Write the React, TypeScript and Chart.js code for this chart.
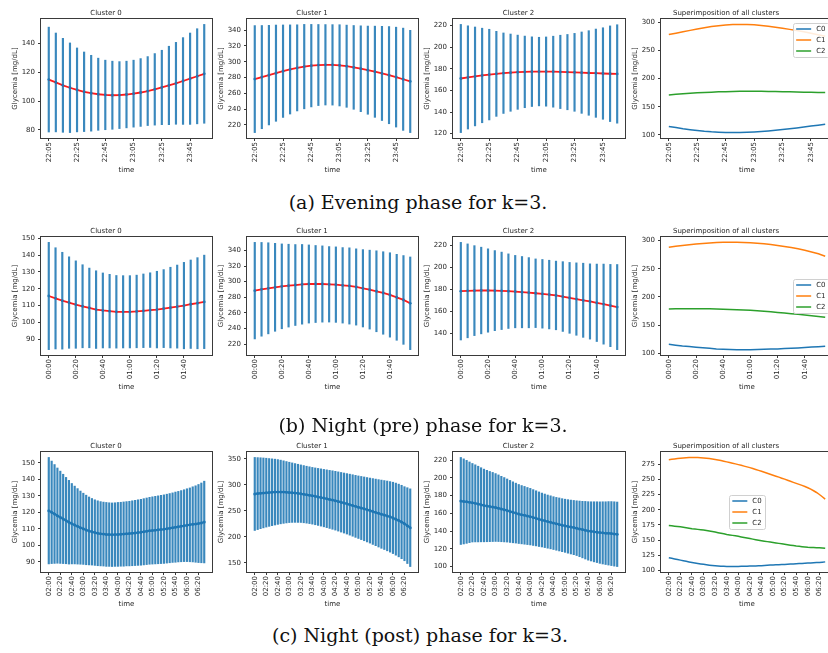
import React, { useEffect, useRef } from "react";
import { Chart, registerables } from "chart.js";
Chart.register(...registerables);

// ---------------- data ----------------
const EVE_TIMES = ["22:05","22:10","22:15","22:20","22:25","22:30","22:35","22:40","22:45","22:50","22:55","23:00","23:05","23:10","23:15","23:20","23:25","23:30","23:35","23:40","23:45","23:50","23:55"];
const PRE_TIMES = ["00:00","00:05","00:10","00:15","00:20","00:25","00:30","00:35","00:40","00:45","00:50","00:55","01:00","01:05","01:10","01:15","01:20","01:25","01:30","01:35","01:40","01:45","01:50","01:55"];
const POST_TIMES = ["02:00","02:05","02:10","02:15","02:20","02:25","02:30","02:35","02:40","02:45","02:50","02:55","03:00","03:05","03:10","03:15","03:20","03:25","03:30","03:35","03:40","03:45","03:50","03:55","04:00","04:05","04:10","04:15","04:20","04:25","04:30","04:35","04:40","04:45","04:50","04:55","05:00","05:05","05:10","05:15","05:20","05:25","05:30","05:35","05:40","05:45","05:50","05:55","06:00","06:05","06:10","06:15","06:20","06:25","06:30"];

const EVE_C0_MEAN = [115.0,113.0,111.0,109.3,107.8,106.5,105.5,104.8,104.3,104.1,104.2,104.6,105.2,106.0,107.0,108.2,109.5,110.9,112.4,114.0,115.6,117.3,119.0];
const EVE_C0_STD = [36.5,34.4,32.7,31.2,29.2,27.7,26.4,25.1,24.2,23.7,23.3,23.2,23.3,23.6,24.0,24.9,25.9,27.3,28.5,30.2,31.8,33.1,34.4];
const EVE_C1_MEAN = [278.0,280.5,283.0,285.5,288.0,290.2,292.2,293.8,295.0,295.8,296.1,296.0,295.4,294.3,292.8,291.1,289.3,287.3,285.2,283.0,280.5,277.8,275.0];
const EVE_C1_STD = [67.7,65.3,63.0,60.9,58.5,56.4,54.5,53.4,52.2,51.3,50.9,50.9,51.4,52.0,53.0,54.3,55.8,57.7,59.6,61.5,63.2,64.7,64.7];
const EVE_C2_MEAN = [171.0,172.0,172.9,173.8,174.6,175.3,175.9,176.4,176.8,177.1,177.3,177.4,177.4,177.3,177.1,176.9,176.7,176.4,176.1,175.9,175.6,175.4,175.2];
const EVE_C2_STD = [50.0,47.7,45.7,43.7,41.9,39.3,37.2,35.7,34.3,33.1,32.2,31.7,32.0,32.8,33.9,34.8,36.0,37.6,39.1,40.8,42.3,44.2,45.5];

const PRE_C0_MEAN = [115.7,114.3,112.9,111.8,110.6,109.6,108.6,107.6,107.1,106.7,106.3,106.3,106.3,106.5,106.9,107.3,107.6,108.2,108.8,109.4,110.0,110.8,111.4,112.2];
const PRE_C0_STD = [31.9,30.1,28.8,27.2,26.0,24.7,23.7,23.1,22.3,21.9,21.6,21.5,21.5,21.6,21.9,22.2,22.8,23.2,24.0,24.7,25.7,26.3,27.1,27.8];
const PRE_C1_MEAN = [288.5,290.2,291.5,292.8,294.0,294.9,295.7,296.6,297.0,297.0,297.0,296.6,296.2,295.3,294.5,293.2,291.5,289.8,287.7,285.5,283.0,280.0,276.6,272.3];
const PRE_C1_STD = [61.8,60.0,58.3,56.3,54.3,53.0,51.8,51.0,50.0,49.3,48.8,48.3,48.3,48.3,48.8,48.8,49.5,50.5,51.8,52.8,54.0,55.0,56.8,59.3];
const PRE_C2_MEAN = [178.5,178.8,179.0,179.1,179.1,179.0,178.8,178.5,178.1,177.6,177.1,176.6,176.1,175.4,174.6,173.6,172.4,171.3,170.2,169.1,167.9,166.7,165.4,164.0];
const PRE_C2_STD = [44.5,42.8,41.0,39.5,38.0,36.5,35.3,34.0,33.0,32.5,32.0,31.3,31.3,31.3,31.3,31.8,32.3,33.0,33.8,34.3,35.3,36.5,37.5,38.8];

const POST_C0_MEAN = [121.0,120.0,119.0,118.0,117.0,116.0,115.0,114.0,113.1,112.3,111.5,110.7,110.0,109.3,108.7,108.2,107.7,107.3,107.0,106.8,106.6,106.5,106.4,106.5,106.6,106.7,106.8,107.0,107.1,107.3,107.5,107.7,107.9,108.2,108.5,108.8,109.0,109.2,109.4,109.6,109.8,110.1,110.4,110.7,111.0,111.3,111.6,111.9,112.2,112.4,112.7,112.9,113.2,113.6,114.1];
const POST_C0_STD = [32.3,31.1,30.0,28.9,28.0,27.1,26.2,25.4,24.4,23.6,22.9,22.2,21.6,21.1,20.6,20.2,19.9,19.7,19.5,19.4,19.4,19.3,19.3,19.3,19.4,19.4,19.5,19.5,19.6,19.7,19.8,19.9,20.0,20.1,20.2,20.3,20.4,20.5,20.6,20.7,20.8,20.9,21.0,21.1,21.3,21.4,21.6,21.8,22.1,22.4,22.8,23.2,23.7,24.2,24.8];
const POST_C1_MEAN = [282.5,283.2,283.9,284.5,285.0,285.4,285.8,286.1,286.3,286.3,286.1,285.8,285.5,285.0,284.4,283.7,283.0,282.1,281.1,280.1,279.0,277.9,276.8,275.7,274.5,273.3,272.0,270.8,269.5,268.0,266.5,265.0,263.5,261.9,260.3,258.6,257.0,255.4,253.8,252.1,250.5,248.7,247.0,245.2,243.5,241.9,240.2,238.4,236.4,234.0,231.4,228.5,225.2,221.5,217.5];
const POST_C1_STD = [70.3,69.3,68.3,67.3,66.3,65.3,64.3,63.4,62.4,61.3,60.2,59.1,58.1,57.3,56.6,56.0,55.4,55.1,54.8,54.7,54.6,54.7,54.9,55.1,55.3,55.6,55.9,56.3,56.6,57.0,57.4,57.8,58.2,58.7,59.2,59.7,60.2,60.8,61.4,62.0,62.6,63.4,64.1,64.9,65.7,66.4,67.2,67.9,68.7,69.4,70.0,70.7,71.3,73.0,74.8];
const POST_C2_MEAN = [174.0,173.5,173.0,172.5,172.0,171.3,170.5,169.7,168.9,168.3,167.7,167.2,166.6,165.8,164.9,164.1,163.2,162.2,161.2,160.3,159.3,158.5,157.8,157.0,156.3,155.3,154.4,153.4,152.5,151.6,150.7,149.9,149.0,148.2,147.5,146.7,146.0,145.3,144.6,144.0,143.3,142.5,141.7,141.0,140.2,139.7,139.2,138.8,138.3,138.0,137.7,137.5,137.2,136.8,136.4];
const POST_C2_STD = [49.1,48.0,46.8,45.5,44.3,43.5,42.7,41.8,41.0,40.3,39.6,39.0,38.3,37.6,36.9,36.3,35.6,35.0,34.4,33.8,33.3,32.9,32.6,32.2,31.9,31.5,31.1,30.8,30.4,30.2,30.0,29.9,29.8,29.8,29.9,29.9,30.0,30.2,30.4,30.6,30.9,31.4,31.9,32.5,33.0,33.4,33.9,34.3,34.7,35.1,35.4,35.8,36.1,36.3,36.4];

const SERIES_LABELS = ["C0", "C1", "C2"];
const CLUSTER_TITLES = ["Cluster 0", "Cluster 1", "Cluster 2"];
const SUP_TITLE = "Superimposition of all clusters";
const Y_LABEL = "Glycemia [mg/dL]";
const X_LABEL = "time";
const CAPTIONS = ["(a) Evening phase for k=3.", "(b) Night (pre) phase for k=3.", "(c) Night (post) phase for k=3."];

// ---------------- styling / layout ----------------
const FONT = "'DejaVu Sans', sans-serif";
const TEXT = "#262626";
const SPINE = "#3a3a3a";
const BLUE = "#1f77b4";
const ERR = "rgba(31,119,180,0.88)";
const SERIES_COLORS = ["#1f77b4", "#ff7f0e", "#2ca02c"];

const COLS = [
  { l: 41, r: 213 },
  { l: 247, r: 419 },
  { l: 453, r: 626 },
  { l: 661, r: 833 },
];
const ROWS = [
  { t: 19, b: 138 },
  { t: 237, b: 355 },
  { t: 452, b: 572 },
];
const CAPTION_POS = [
  { cx: 418, cy: 202 },
  { cx: 423, cy: 425 },
  { cx: 420, cy: 635 },
];
const AXIS_W = 42;
const TITLE_H = 16;
const XAXIS_H = 40;
const PAD_R = 3;

type Spec = {
  row: number;
  col: number;
  title: string;
  times: string[];
  step: number;
  mean?: number[];
  std?: number[];
  red?: boolean;
  series?: number[][];
  legend?: string;
};

const PANELS: Spec[] = [
  { row: 0, col: 0, title: CLUSTER_TITLES[0], times: EVE_TIMES, mean: EVE_C0_MEAN, std: EVE_C0_STD, step: 20, red: true },
  { row: 0, col: 1, title: CLUSTER_TITLES[1], times: EVE_TIMES, mean: EVE_C1_MEAN, std: EVE_C1_STD, step: 20, red: true },
  { row: 0, col: 2, title: CLUSTER_TITLES[2], times: EVE_TIMES, mean: EVE_C2_MEAN, std: EVE_C2_STD, step: 20, red: true },
  { row: 0, col: 3, title: SUP_TITLE, times: EVE_TIMES, series: [EVE_C0_MEAN, EVE_C1_MEAN, EVE_C2_MEAN], step: 50, legend: "upper right" },
  { row: 1, col: 0, title: CLUSTER_TITLES[0], times: PRE_TIMES, mean: PRE_C0_MEAN, std: PRE_C0_STD, step: 10, red: true },
  { row: 1, col: 1, title: CLUSTER_TITLES[1], times: PRE_TIMES, mean: PRE_C1_MEAN, std: PRE_C1_STD, step: 20, red: true },
  { row: 1, col: 2, title: CLUSTER_TITLES[2], times: PRE_TIMES, mean: PRE_C2_MEAN, std: PRE_C2_STD, step: 20, red: true },
  { row: 1, col: 3, title: SUP_TITLE, times: PRE_TIMES, series: [PRE_C0_MEAN, PRE_C1_MEAN, PRE_C2_MEAN], step: 50, legend: "center right" },
  { row: 2, col: 0, title: CLUSTER_TITLES[0], times: POST_TIMES, mean: POST_C0_MEAN, std: POST_C0_STD, step: 10, red: false },
  { row: 2, col: 1, title: CLUSTER_TITLES[1], times: POST_TIMES, mean: POST_C1_MEAN, std: POST_C1_STD, step: 50, red: false },
  { row: 2, col: 2, title: CLUSTER_TITLES[2], times: POST_TIMES, mean: POST_C2_MEAN, std: POST_C2_STD, step: 20, red: false },
  { row: 2, col: 3, title: SUP_TITLE, times: POST_TIMES, series: [POST_C0_MEAN, POST_C1_MEAN, POST_C2_MEAN], step: 25, legend: "center" },
];

// ---------------- plugins ----------------
const framePlugin = {
  id: "frame",
  afterDatasetsDraw(chart: any) {
    const { ctx, chartArea: a } = chart;
    const l = Math.round(a.left), t = Math.round(a.top), r = Math.round(a.right), b = Math.round(a.bottom);
    ctx.save();
    ctx.strokeStyle = SPINE;
    ctx.lineWidth = 1;
    ctx.strokeRect(l - 0.5, t - 0.5, r - l + 1, b - t + 1);
    ctx.restore();
  },
};

function makeLegendPlugin(loc: string) {
  return {
    id: "supLegend",
    afterDraw(chart: any) {
      const { ctx, chartArea: a } = chart;
      const ds = chart.data.datasets;
      ctx.save();
      ctx.font = `7px ${FONT}`;
      const padX = 3.5, handle = 15, gap = 5, lineH = 11, inset = 4;
      const tw = Math.max(...ds.map((d: any) => ctx.measureText(d.label).width));
      const w = padX + handle + gap + tw + padX;
      const h = 12 + (ds.length - 1) * lineH;
      let x = a.right - inset - w;
      let y = a.top + inset;
      if (loc === "center right") y = (a.top + a.bottom) / 2 - h / 2;
      if (loc === "center") {
        x = (a.left + a.right) / 2 - w / 2;
        y = (a.top + a.bottom) / 2 - h / 2;
      }
      ctx.fillStyle = "rgba(255,255,255,0.85)";
      ctx.strokeStyle = "#d0d0d0";
      ctx.lineWidth = 1;
      ctx.beginPath();
      if (ctx.roundRect) ctx.roundRect(Math.round(x) + 0.5, Math.round(y) + 0.5, Math.round(w), Math.round(h), 2);
      else ctx.rect(Math.round(x) + 0.5, Math.round(y) + 0.5, Math.round(w), Math.round(h));
      ctx.fill();
      ctx.stroke();
      ds.forEach((d: any, i: number) => {
        const cy = y + 6 + i * lineH;
        ctx.strokeStyle = d.borderColor;
        ctx.lineWidth = 1.5;
        ctx.beginPath();
        ctx.moveTo(x + padX, cy);
        ctx.lineTo(x + padX + handle, cy);
        ctx.stroke();
        ctx.fillStyle = TEXT;
        ctx.textBaseline = "middle";
        ctx.textAlign = "left";
        ctx.fillText(d.label, x + padX + handle + gap, cy);
      });
      ctx.restore();
    },
  };
}

// ---------------- config ----------------
function buildConfig(p: Spec): any {
  const n = p.times.length;
  const xs = p.times.map((_, i) => i);
  const datasets: any[] = [];
  let lo = Infinity, hi = -Infinity;
  if (p.mean && p.std) {
    const lows = p.mean.map((m, i) => m - p.std![i]);
    const highs = p.mean.map((m, i) => m + p.std![i]);
    lo = Math.min(...lows);
    hi = Math.max(...highs);
    datasets.push({
      type: "bar",
      label: "std",
      data: xs.map((i) => ({ x: i, y: [lows[i], highs[i]] })),
      backgroundColor: ERR,
      borderWidth: 0,
      barThickness: 1.5,
      grouped: false,
      order: 3,
    });
    if (p.red) {
      datasets.push({
        type: "line",
        label: "mean",
        data: xs.map((i) => ({ x: i, y: p.mean![i] })),
        borderColor: "#ff1a1a",
        borderWidth: 1.8,
        pointRadius: 0,
        tension: 0,
        order: 2,
      });
    }
    datasets.push({
      type: "line",
      label: "points",
      data: xs.map((i) => ({ x: i, y: p.mean![i] })),
      showLine: !p.red,
      borderColor: BLUE,
      borderWidth: 2,
      pointRadius: p.red ? 1.4 : 1.5,
      pointBackgroundColor: BLUE,
      pointBorderWidth: 0,
      tension: 0,
      order: 1,
    });
  } else if (p.series) {
    p.series.forEach((s, k) => {
      lo = Math.min(lo, ...s);
      hi = Math.max(hi, ...s);
      datasets.push({
        type: "line",
        label: SERIES_LABELS[k],
        data: xs.map((i) => ({ x: i, y: s[i] })),
        borderColor: SERIES_COLORS[k],
        borderWidth: 1.5,
        pointRadius: 0,
        tension: 0,
        order: 3 - k,
      });
    });
  }
  const m = (hi - lo) * 0.05;
  const plugins: any[] = [framePlugin];
  if (p.legend) plugins.push(makeLegendPlugin(p.legend));
  const tickFont = { family: FONT, size: 7 };
  const gridOpts = { display: true, drawOnChartArea: false, drawTicks: true, tickLength: 3, color: SPINE, lineWidth: 1, offset: false };
  return {
    type: "line",
    data: { datasets },
    plugins,
    options: {
      animation: false,
      responsive: false,
      devicePixelRatio: 1,
      layout: { padding: { left: 0, right: PAD_R, top: 0, bottom: 0 } },
      plugins: {
        legend: { display: false },
        tooltip: { enabled: false },
        title: {
          display: true,
          text: p.title,
          color: TEXT,
          font: { family: FONT, size: 7, weight: "normal", lineHeight: "10px" },
          padding: { top: 5, bottom: 1 },
        },
      },
      scales: {
        x: {
          type: "linear",
          offset: false,
          bounds: "data",
          min: -0.05 * (n - 1),
          max: 1.05 * (n - 1),
          afterBuildTicks: (s: any) => {
            s.ticks = xs.filter((i) => i % 4 === 0).map((v) => ({ value: v }));
          },
          afterFit: (s: any) => {
            s.height = XAXIS_H;
          },
          ticks: {
            autoSkip: false,
            maxRotation: 90,
            minRotation: 90,
            padding: 1,
            color: TEXT,
            font: tickFont,
            callback: (v: any) => p.times[Math.round(v)] ?? "",
          },
          grid: gridOpts,
          border: { display: false },
          title: {
            display: true,
            text: X_LABEL,
            color: TEXT,
            font: { family: FONT, size: 7, lineHeight: "10px" },
            padding: { top: 0, bottom: 3 },
          },
        },
        y: {
          type: "linear",
          bounds: "ticks",
          min: lo - m,
          max: hi + m,
          afterFit: (s: any) => {
            s.width = AXIS_W;
          },
          ticks: {
            stepSize: p.step,
            includeBounds: false,
            padding: 3,
            color: TEXT,
            font: tickFont,
          },
          grid: gridOpts,
          border: { display: false },
          title: {
            display: true,
            text: Y_LABEL,
            color: TEXT,
            font: { family: FONT, size: 7, lineHeight: "10px" },
            padding: { top: 11, bottom: 0 },
          },
        },
      },
    },
  };
}

// ---------------- components ----------------
function Panel({ spec }: { spec: Spec }) {
  const ref = useRef<HTMLCanvasElement>(null);
  const col = COLS[spec.col];
  const row = ROWS[spec.row];
  const left = col.l - AXIS_W;
  const top = row.t - TITLE_H;
  const width = AXIS_W + (col.r - col.l) + PAD_R;
  const height = TITLE_H + (row.b - row.t) + XAXIS_H;
  useEffect(() => {
    const chart = new Chart(ref.current as HTMLCanvasElement, buildConfig(spec));
    return () => chart.destroy();
  }, []);
  return (
    <canvas
      ref={ref}
      width={width}
      height={height}
      style={{ position: "absolute", left, top, width, height, display: "block" }}
    />
  );
}

export default function App() {
  return (
    <div
      style={{
        position: "absolute",
        left: 0,
        top: 0,
        width: 828,
        height: 653,
        overflow: "hidden",
        background: "#ffffff",
      }}
    >
      {PANELS.map((p, i) => (
        <Panel key={i} spec={p} />
      ))}
      {CAPTIONS.map((c, i) => (
        <div
          key={"cap" + i}
          style={{
            position: "absolute",
            left: CAPTION_POS[i].cx - 250,
            top: CAPTION_POS[i].cy - 12,
            width: 500,
            height: 24,
            lineHeight: "24px",
            textAlign: "center",
            fontFamily: "'DejaVu Serif', 'Liberation Serif', serif",
            fontSize: 19,
            color: "#111",
            whiteSpace: "nowrap",
          }}
        >
          {c}
        </div>
      ))}
    </div>
  );
}
